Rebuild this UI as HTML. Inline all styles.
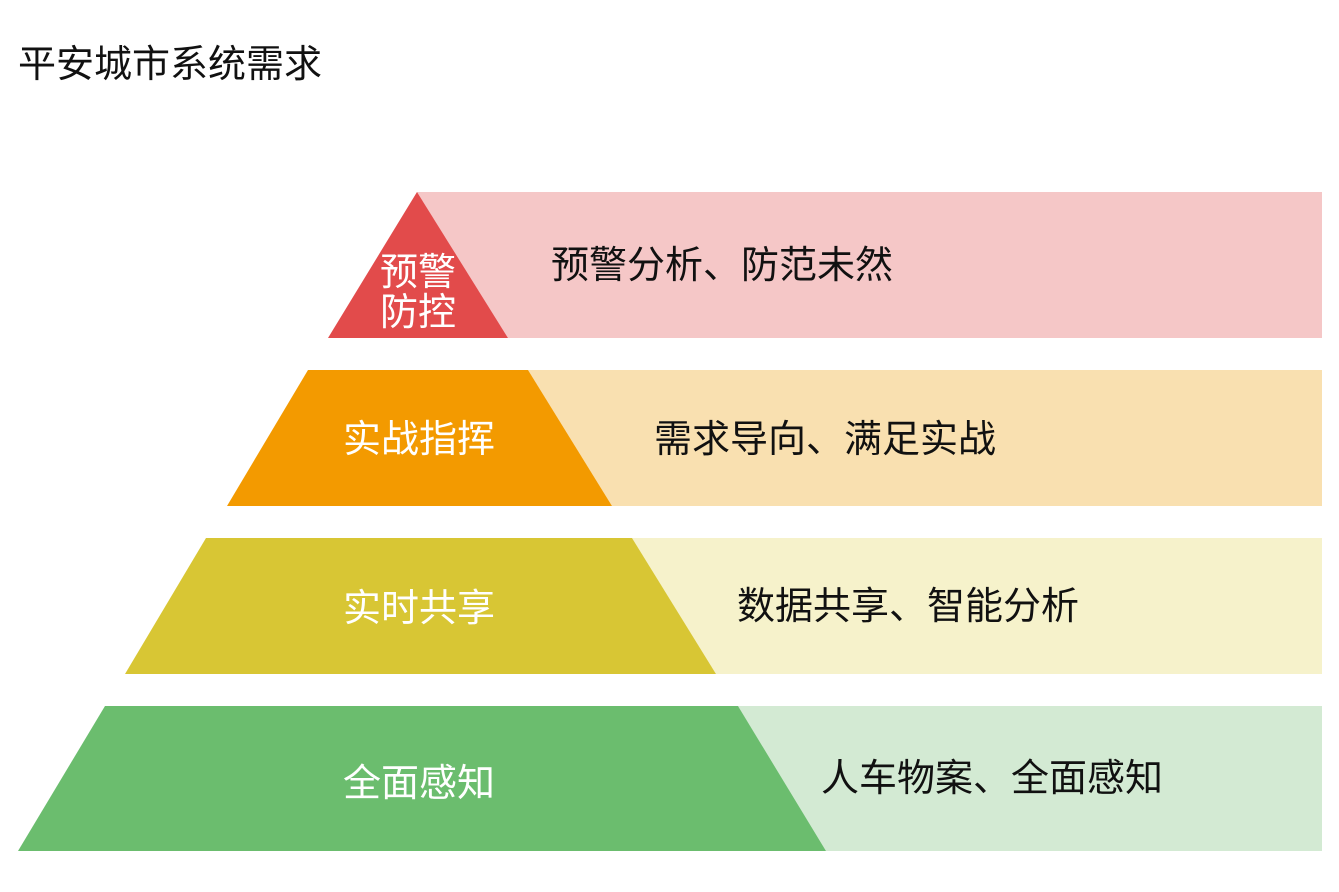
<!DOCTYPE html>
<html><head><meta charset="utf-8"><style>
body{margin:0;background:#fff;}
svg text{font-family:"Liberation Sans","Noto Sans CJK SC",sans-serif;}
</style></head><body>
<svg width="1339" height="887" xmlns="http://www.w3.org/2000/svg">
<rect width="1339" height="887" fill="#fff"/>
<text x="18" y="77" font-size="38" fill="#111">平安城市系统需求</text>

<polygon points="417,192 1322,192 1322,338 508,338" fill="#F5C7C7"/>
<polygon points="417,192 508,338 328,338" fill="#E24B4B"/>
<text x="418" y="285" font-size="38" fill="#fff" text-anchor="middle">预警</text>
<text x="418" y="325" font-size="38" fill="#fff" text-anchor="middle">防控</text>
<text x="722" y="278" font-size="38" fill="#111" text-anchor="middle">预警分析、防范未然</text>

<polygon points="528,370 1322,370 1322,506 612,506" fill="#F9E0B0"/>
<polygon points="308,370 528,370 612,506 227,506" fill="#F39A00"/>
<text x="419" y="452" font-size="38" fill="#fff" text-anchor="middle">实战指挥</text>
<text x="825" y="452" font-size="38" fill="#111" text-anchor="middle">需求导向、满足实战</text>

<polygon points="632,538 1322,538 1322,674 716,674" fill="#F6F2CB"/>
<polygon points="206,538 632,538 716,674 125,674" fill="#D8C634"/>
<text x="419" y="621" font-size="38" fill="#fff" text-anchor="middle">实时共享</text>
<text x="908" y="619" font-size="38" fill="#111" text-anchor="middle">数据共享、智能分析</text>

<polygon points="738,706 1322,706 1322,851 826,851" fill="#D3EAD3"/>
<polygon points="105,706 738,706 826,851 18,851" fill="#6BBD6E"/>
<text x="419" y="796" font-size="38" fill="#fff" text-anchor="middle">全面感知</text>
<text x="992" y="791" font-size="38" fill="#111" text-anchor="middle">人车物案、全面感知</text>
</svg>
</body></html>
